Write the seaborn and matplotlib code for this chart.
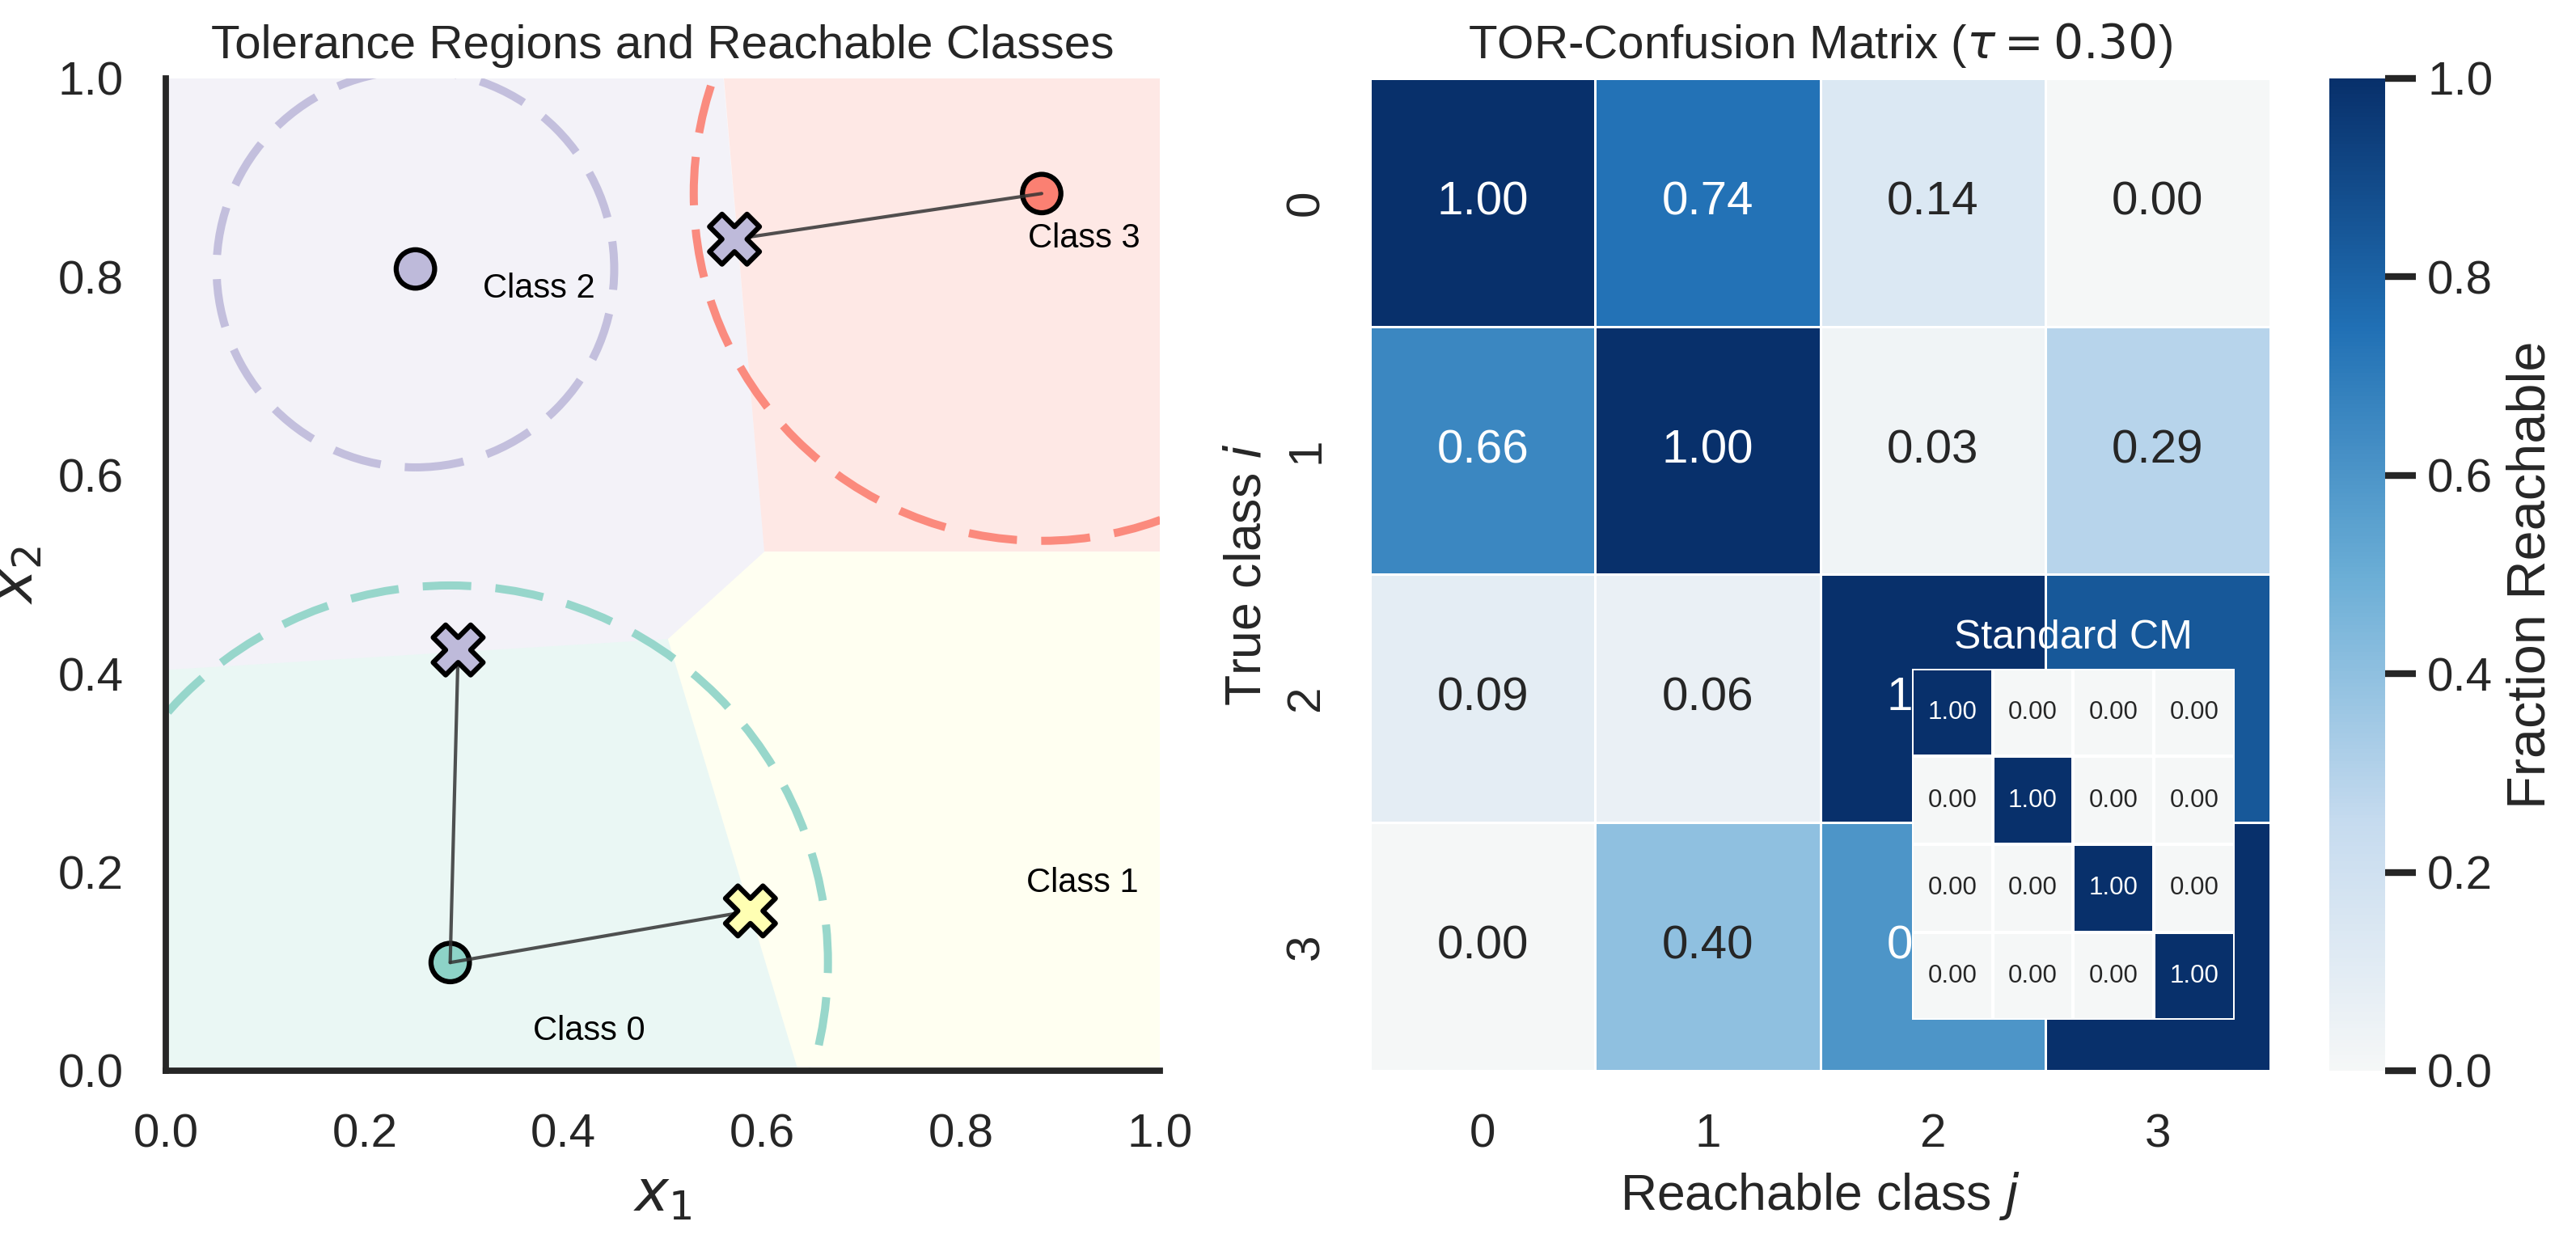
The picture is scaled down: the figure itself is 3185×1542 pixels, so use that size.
import numpy as np
import matplotlib
matplotlib.use("Agg")
import matplotlib.pyplot as plt
import seaborn as sns
from matplotlib.patches import Circle
from matplotlib.colors import LinearSegmentedColormap

# ---- data ----
class_names = ["Class 0", "Class 1", "Class 2", "Class 3"]
class_colors = ["#8dd3c7", "#ffffb3", "#bebada", "#fb8072"]

# anchor points of the classes that have one (class 1 has none drawn)
anchor_class = [0, 2, 3]
anchor_x = [0.286, 0.251, 0.881]
anchor_y = [0.109, 0.808, 0.884]
tol_radius = [0.38, 0.20, 0.35]

# reachable points: source anchor class -> reached class
reach_src = [0, 0, 3]
reach_cls = [2, 1, 2]
reach_x = [0.294, 0.588, 0.572]
reach_y = [0.424, 0.161, 0.838]

label_x = [0.426, 0.922, 0.375, 0.924]
label_y = [0.040, 0.189, 0.788, 0.839]

# decision regions, one polygon per class
region_x = [
    [0.0, 0.505, 0.636, 0.0],
    [0.602, 1.0, 1.0, 0.636, 0.505],
    [0.0, 0.561, 0.602, 0.505, 0.0],
    [0.561, 1.0, 1.0, 0.602],
]
region_y = [
    [0.404, 0.435, 0.0, 0.0],
    [0.523, 0.523, 0.0, 0.0, 0.435],
    [1.0, 1.0, 0.523, 0.435, 0.404],
    [1.0, 1.0, 0.523, 0.523],
]

tor_matrix = [
    [1.00, 0.74, 0.14, 0.00],
    [0.66, 1.00, 0.03, 0.29],
    [0.09, 0.06, 1.00, 0.84],
    [0.00, 0.40, 0.60, 1.00],
]
std_matrix = [
    [1.00, 0.00, 0.00, 0.00],
    [0.00, 1.00, 0.00, 0.00],
    [0.00, 0.00, 1.00, 0.00],
    [0.00, 0.00, 0.00, 1.00],
]
class_ticks = ["0", "1", "2", "3"]
tau = 0.30

# ---- style ----
sns.set_theme(style="white", context="talk")
plt.rcParams["font.family"] = ["Liberation Sans", "DejaVu Sans"]

blues = plt.get_cmap("Blues")
cmap = LinearSegmentedColormap.from_list(
    "tor_blues", ["#f5f7f7", blues(0.25), blues(0.5), blues(0.75), blues(1.0)])

fig = plt.figure(figsize=(3185 / 300, 1542 / 300), dpi=300)
ax1 = fig.add_axes([0.0644, 0.1414, 0.3859, 0.7957])
ax2 = fig.add_axes([0.5319, 0.1414, 0.3494, 0.7957])
cax = fig.add_axes([0.9042, 0.1414, 0.0217, 0.7957])

# ---- left panel ----
for k in range(4):
    ax1.fill(region_x[k], region_y[k], color=class_colors[k], alpha=0.18, lw=0, zorder=0)

for i, c in enumerate(anchor_class):
    ax1.add_patch(Circle((anchor_x[i], anchor_y[i]), tol_radius[i], fill=False,
                         edgecolor=class_colors[c], lw=2.4, ls=(0, (6, 3)),
                         alpha=0.9, zorder=1))

for i in range(len(reach_x)):
    j = anchor_class.index(reach_src[i])
    ax1.plot([anchor_x[j], reach_x[i]], [anchor_y[j], reach_y[i]],
             color="#333333", lw=1.0, alpha=0.85, zorder=3)

ax1.scatter(anchor_x, anchor_y, s=130, c=[class_colors[c] for c in anchor_class],
            edgecolor="black", linewidth=1.5, zorder=2)
ax1.scatter(reach_x, reach_y, s=220, marker="X", c=[class_colors[c] for c in reach_cls],
            edgecolor="black", linewidth=1.5, zorder=4)

for k in range(4):
    ax1.text(label_x[k], label_y[k], class_names[k], fontsize=10,
             ha="center", va="center", color="black", zorder=5)

ax1.set_xlim(0, 1)
ax1.set_ylim(0, 1)
ax1.set_xticks(np.arange(0, 1.01, 0.2))
ax1.set_yticks(np.arange(0, 1.01, 0.2))
ax1.tick_params(labelsize=14)
ax1.set_xlabel("$x_1$", fontsize=17)
ax1.set_ylabel("$x_2$", fontsize=17)
ax1.set_title("Tolerance Regions and Reachable Classes", fontsize=14)
sns.despine(ax=ax1)

# ---- right panel ----
sns.heatmap(np.array(tor_matrix), ax=ax2, cbar_ax=cax, cmap=cmap, vmin=0, vmax=1,
            annot=True, fmt=".2f", annot_kws={"size": 14},
            linewidths=0.7, linecolor="white",
            xticklabels=class_ticks, yticklabels=class_ticks,
            cbar_kws={"label": "Fraction Reachable"})
ax2.set_title(f"TOR-Confusion Matrix ($\\tau = {tau:.2f}$)", fontsize=14)
ax2.set_xlabel("Reachable class $j$", fontsize=15)
ax2.set_ylabel("True class $i$", fontsize=15)
ax2.tick_params(labelsize=14)
cax.set_yticks(np.arange(0, 1.01, 0.2))
cax.tick_params(labelsize=14, length=9, width=2)
cax.set_ylabel("Fraction Reachable", fontsize=16)

# inset with the standard confusion matrix
ins = fig.add_axes([0.7422, 0.1822, 0.1253, 0.2815])
sns.heatmap(np.array(std_matrix), ax=ins, cmap=cmap, vmin=0, vmax=1, cbar=False,
            annot=True, fmt=".2f", annot_kws={"size": 7.5},
            linewidths=0.5, linecolor="white", xticklabels=False, yticklabels=False)
ins.set_title("Standard CM", fontsize=12, color="white")

fig.savefig("out.png", dpi=300)
